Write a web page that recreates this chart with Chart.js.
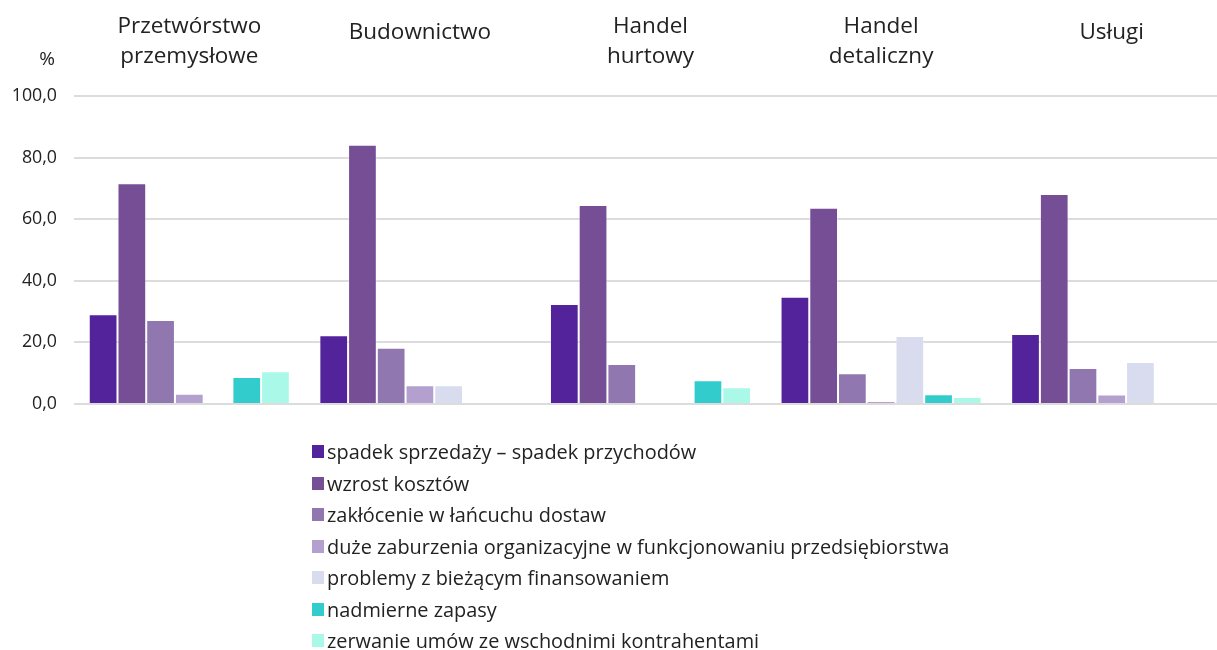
<!DOCTYPE html>
<html><head><meta charset="utf-8">
<script src="https://cdn.jsdelivr.net/npm/chart.js@4/dist/chart.umd.min.js"></script>
<style>
html,body{margin:0;padding:0;background:#fff;overflow:hidden;}
#wrap{position:relative;width:1217px;height:650px;overflow:hidden;}
#c{position:absolute;left:0;top:0;}
#legend{position:absolute;left:312px;top:436px;font-family:"Open Sans",sans-serif;font-size:19.9px;color:#222;}
#legend div{height:31.5px;line-height:31.5px;white-space:nowrap;display:flex;align-items:center;}
#legend span.b{display:inline-block;width:12px;height:13px;margin-right:3px;}
</style></head>
<body><div id="wrap"><canvas id="c" width="1229" height="650"></canvas><div id="legend"></div></div>
<script>
const categories = [["Przetwórstwo","przemysłowe"],"Budownictwo",["Handel","hurtowy"],["Handel","detaliczny"],"Usługi"];
const seriesNames = ["spadek sprzedaży – spadek przychodów","wzrost kosztów","zakłócenie w łańcuchu dostaw","duże zaburzenia organizacyjne w funkcjonowaniu przedsiębiorstwa","problemy z bieżącym finansowaniem","nadmierne zapasy","zerwanie umów ze wschodnimi kontrahentami"];
const spadekSprzedazy = [29.1, 22.3, 32.5, 34.8, 22.7];
const wzrostKosztow = [71.7, 84.2, 64.6, 63.7, 68.2];
const zaklocenieDostaw = [27.3, 18.3, 13.0, 10.0, 11.7];
const zaburzeniaOrg = [3.3, 6.1, null, 0.9, 3.1];
const problemyFinans = [null, 6.1, null, 22.1, 13.6];
const nadmierneZapasy = [8.8, null, 7.7, 3.2, null];
const zerwanieUmow = [10.6, null, 5.4, 2.3, null];
const yTicks = [0, 20, 40, 60, 80, 100];
const colors = ["#52239a","#754e96","#9177b0","#b3a0cf","#d9dbef","#33cccc","#aaf9e8"];
const seriesValues = [spadekSprzedazy, wzrostKosztow, zaklocenieDostaw, zaburzeniaOrg, problemyFinans, nadmierneZapasy, zerwanieUmow];

const FONT = '"Open Sans", sans-serif';
const pctPlugin = {
  id: 'pct',
  afterDraw(chart){
    const ctx = chart.ctx, y = chart.scales.y;
    ctx.save();
    ctx.font = '19px ' + FONT;
    ctx.fillStyle = '#222';
    ctx.textAlign = 'right';
    ctx.textBaseline = 'middle';
    ctx.fillText('%', y.right - 19, y.top - 36);
    ctx.restore();
  }
};

const chart = new Chart(document.getElementById('c'), {
  type: 'bar',
  data: {
    labels: categories,
    datasets: seriesNames.map((n,i)=>({
      label: n, data: seriesValues[i], backgroundColor: colors[i],
      borderColor: 'rgba(255,255,255,0.35)', borderWidth: 1,
      categoryPercentage: 0.872, barPercentage: 1.0
    }))
  },
  options: {
    responsive: false, animation: false,
    layout: { padding: { left: 0, right: 2, top: 0, bottom: 246 } },
    plugins: { legend: { display: false }, tooltip: { enabled: false } },
    scales: {
      x: {
        position: 'top',
        afterFit(s){ s.height = 96; },
        grid: { display: false, drawTicks: false },
        border: { display: false },
        ticks: {
          font: c => ({ family: FONT, size: 22.5, lineHeight: Array.isArray(categories[c.index]) ? 1.32 : 1.8 }),
          color: '#222', padding: 24.5, crossAlign: 'far', maxRotation: 0 }
      },
      y: {
        min: 0, max: 100,
        afterFit(s){ s.width = 74; },
        afterBuildTicks(s){ s.ticks = yTicks.map(v=>({value:v})); },
        grid: { color: '#dcdcdc', lineWidth: 2, drawTicks: false },
        border: { display: false },
        ticks: { font: { family: FONT, size: 17.8 }, color: '#222', padding: 17,
          callback: v => v.toFixed(1).replace('.', ',') }
      }
    }
  },
  plugins: [pctPlugin]
});

const lg = document.getElementById('legend');
chart.data.datasets.forEach(ds=>{
  const d = document.createElement('div');
  const b = document.createElement('span'); b.className='b'; b.style.background = ds.backgroundColor;
  d.appendChild(b); d.appendChild(document.createTextNode(ds.label));
  lg.appendChild(d);
});
</script></body></html>
